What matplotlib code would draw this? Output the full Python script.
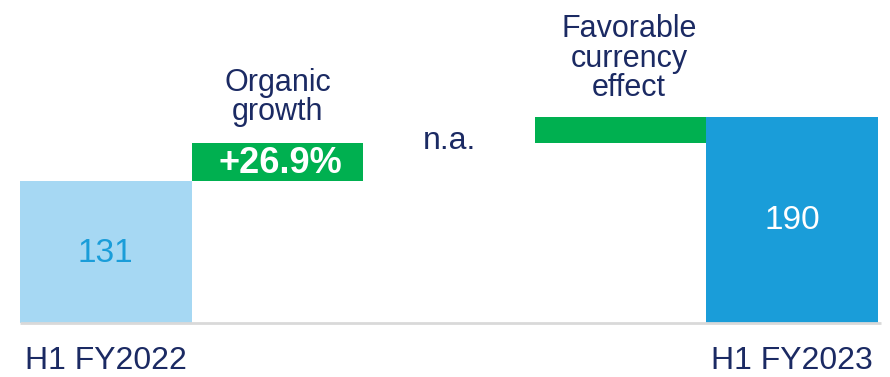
import matplotlib.pyplot as plt

# waterfall data
steps = ["H1 FY2022", "Organic\ngrowth", "n.a.", "Favorable\ncurrency\neffect", "H1 FY2023"]
start_value = 131
end_value = 190
organic_label = "+26.9%"
organic_delta = 35.2
currency_delta = 23.8

light_blue = "#a6d8f3"
dark_blue = "#1a9dd9"
green = "#00b050"
navy = "#1b2a63"

plt.rcParams['font.family'] = ['Liberation Sans', 'DejaVu Sans']

fig = plt.figure(figsize=(8.9, 3.77), dpi=100)
ax = fig.add_axes([20/890, 54/377, 858/890, 323/377])
ax.set_xlim(0, 5)
ax.set_ylim(0, 298)
ax.axis('off')

# bars
ax.bar(0.5, start_value, width=1, color=light_blue)
ax.bar(1.5, organic_delta, bottom=start_value, width=1, color=green)
mid = start_value + organic_delta
ax.bar(3.5, currency_delta, bottom=mid, width=1, color=green)
ax.bar(4.5, end_value, width=1, color=dark_blue)

# baseline
ax.plot([0, 5.02], [0, 0], color="#d9d9d9", lw=2, clip_on=False, solid_capstyle='butt')

# values in bars
ax.text(0.5, start_value/2 - 1, str(start_value), ha='center', va='center', fontsize=24, color=dark_blue)
ax.text(4.5, end_value/2, str(end_value), ha='center', va='center', fontsize=24, color='white')
ax.text(1.52, start_value + organic_delta/2 - 1, organic_label, ha='center', va='center',
        fontsize=26, fontweight='bold', color='white')

# step labels
ax.text(1.5, 208, steps[1], ha='center', va='center', fontsize=22, color=navy, linespacing=0.98)
ax.text(2.5, 168, steps[2], ha='center', va='center', fontsize=23, color=navy)
ax.text(3.55, 244, steps[3], ha='center', va='center', fontsize=22, color=navy, linespacing=0.98)

# category labels
ax.text(0.03, -35, steps[0], ha='left', va='center', fontsize=23, color=navy, clip_on=False)
ax.text(4.97, -35, steps[4], ha='right', va='center', fontsize=23, color=navy, clip_on=False)

fig.savefig("out.png", dpi=100)
